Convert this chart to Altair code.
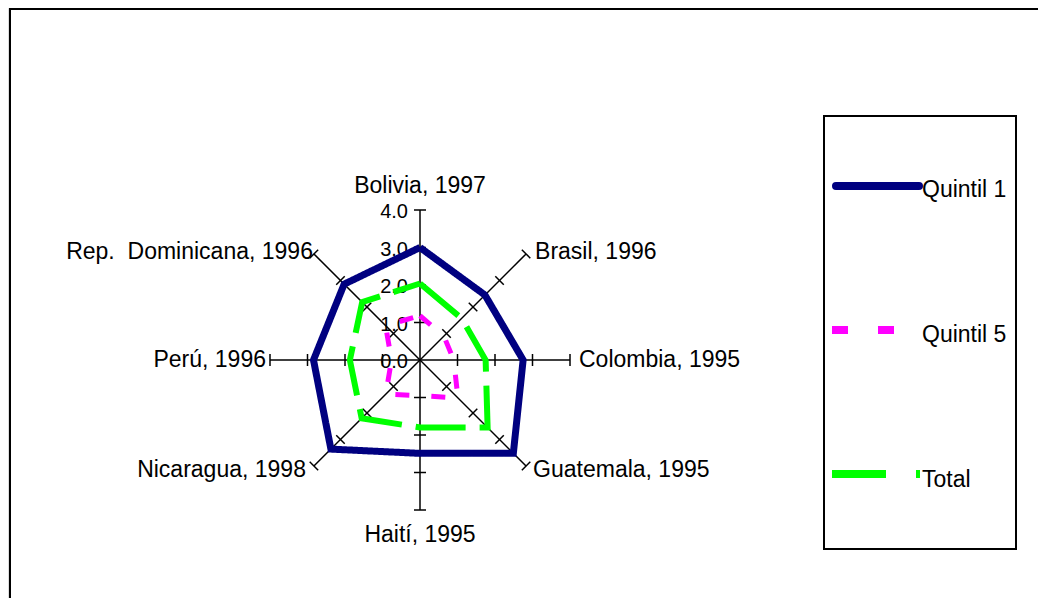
import math
import altair as alt
import pandas as pd

# ---------------- data ----------------
categories = ["Bolivia, 1997", "Brasil, 1996", "Colombia, 1995", "Guatemala, 1995",
              "Haití, 1995", "Nicaragua, 1998", "Perú, 1996", "Rep.\u00a0 Dominicana, 1996"]
quintil1 = [3.0, 2.45, 2.75, 3.52, 2.49, 3.36, 2.84, 2.86]
quintil5 = [1.18, 0.9, 0.9, 1.43, 0.95, 1.29, 0.76, 1.3]
total = [2.04, 1.57, 1.75, 2.55, 1.8, 2.2, 1.87, 2.18]
tick_values = [0, 1, 2, 3, 4]
tick_labels = ["0.0", "1.0", "2.0", "3.0", "4.0"]
series_names = ["Quintil 1", "Quintil 5", "Total"]

# ---------------- layout / style ----------------
W, H = 1030, 590
CX, CY = 412, 352          # centre of the radar in plot pixels
PPU = 37.5                 # pixels per unit
RMAX = 4
FONT = "Liberation Sans"
colors = {"Quintil 1": "#000080", "Quintil 5": "#FF00FF", "Total": "#00FF00"}
widths = {"Quintil 1": 7, "Quintil 5": 5, "Total": 6}
dashes = {"Quintil 1": [1, 0], "Quintil 5": [14, 22], "Total": [50, 14]}
legend_dashes = {"Quintil 1": [1, 0], "Quintil 5": [16, 30], "Total": [54, 30]}

xdom = [-CX / PPU, (W - CX) / PPU]
ydom = [-(H - CY) / PPU, CY / PPU]
xs = alt.Scale(domain=xdom, nice=False, zero=False)
ys = alt.Scale(domain=ydom, nice=False, zero=False)

n = len(categories)
angles = [2 * math.pi * i / n for i in range(n)]


def X(field):
    return alt.X(f"{field}:Q", scale=xs, axis=None)


def Y(field):
    return alt.Y(f"{field}:Q", scale=ys, axis=None)


# spokes
spokes = pd.DataFrame({
    "cat": categories,
    "x0": [0.0] * n, "y0": [0.0] * n,
    "x1": [RMAX * math.sin(a) for a in angles],
    "y1": [RMAX * math.cos(a) for a in angles],
})

# tick marks on every spoke
half = 6 / PPU
trows = []
for a in angles:
    for v in tick_values[1:]:
        px, py = v * math.sin(a), v * math.cos(a)
        ux, uy = math.cos(a), -math.sin(a)
        trows.append({"x0": px - half * ux, "y0": py - half * uy,
                      "x1": px + half * ux, "y1": py + half * uy})
ticks = pd.DataFrame(trows)

# radial axis labels
tlab = pd.DataFrame({"x": [0.0] * len(tick_values), "y": tick_values, "label": tick_labels})


# series polygons (closed)
def poly(name, vals):
    rows = []
    for i in range(n + 1):
        j = i % n
        rows.append({"series": name, "order": i,
                     "x": vals[j] * math.sin(angles[j]),
                     "y": vals[j] * math.cos(angles[j])})
    return pd.DataFrame(rows)


series_data = {"Quintil 1": quintil1, "Quintil 5": quintil5, "Total": total}

# category labels
label_offsets = {  # (dx px, dy px, align)
    0: (0, -24, "center"), 1: (9, -2, "left"), 2: (9, 0, "left"), 3: (7, 4, "left"),
    4: (0, 25, "center"), 5: (-8, 3.5, "right"), 6: (-4, 0, "right"), 7: (-1, -2, "right"),
}
lrows = []
for i, (c, a) in enumerate(zip(categories, angles)):
    dx, dy, al = label_offsets[i]
    lrows.append({"cat": c, "align": al,
                  "x": RMAX * math.sin(a) + dx / PPU,
                  "y": RMAX * math.cos(a) - dy / PPU})
labels = pd.DataFrame(lrows)

layers = []

# outer frame (left and top edges; the rest is off-page)
one = pd.DataFrame({"k": [0]})
layers.append(alt.Chart(one).mark_rule(color="black", strokeWidth=2).encode(
    x=alt.value(2), y=alt.value(0), y2=alt.value(H)))
layers.append(alt.Chart(one).mark_rule(color="black", strokeWidth=2).encode(
    x=alt.value(1), x2=alt.value(W), y=alt.value(1)))

# axis labels
layers.append(alt.Chart(tlab).mark_text(font=FONT, fontSize=20, align="right",
                                        baseline="middle", dx=-12, dy=2, color="black").encode(
    x=X("x"), y=Y("y"), text="label:N"))

# spokes and ticks
layers.append(alt.Chart(spokes).mark_rule(color="black", strokeWidth=1.5).encode(
    x=X("x0"), y=Y("y0"), x2="x1:Q", y2="y1:Q"))
layers.append(alt.Chart(ticks).mark_rule(color="black", strokeWidth=1.5).encode(
    x=X("x0"), y=Y("y0"), x2="x1:Q", y2="y1:Q"))

# series
for name in series_names:
    layers.append(alt.Chart(poly(name, series_data[name])).mark_line(
        color=colors[name], strokeWidth=widths[name], strokeDash=dashes[name],
        strokeJoin="miter", strokeCap="butt").encode(
        x=X("x"), y=Y("y"), order="order:Q"))

# category labels
for al in ["left", "center", "right"]:
    layers.append(alt.Chart(labels).transform_filter(alt.datum.align == al).mark_text(
        font=FONT, fontSize=23, align=al, baseline="middle", color="black").encode(
        x=X("x"), y=Y("y"), text="cat:N"))

# legend box
layers.append(alt.Chart(one).mark_rect(fill="white", stroke="black", strokeWidth=2).encode(
    x=alt.value(816), x2=alt.value(1008), y=alt.value(108), y2=alt.value(541)))

legend_pos = {  # symbol x-start, symbol x-end, symbol y, text y
    "Quintil 1": (828, 911, 178, 182),
    "Quintil 5": (824, 886, 322, 327),
    "Total": (824, 912, 466, 472),
}
for name in series_names:
    xs0, xe, sy, ty = legend_pos[name]
    ldf = pd.DataFrame({"series": [name]})
    layers.append(alt.Chart(ldf).mark_rule(
        color=colors[name], strokeWidth=8, strokeDash=legend_dashes[name],
        strokeCap="round" if name == "Quintil 1" else "butt").encode(
        x=alt.value(xs0), x2=alt.value(xe), y=alt.value(sy)))
    layers.append(alt.Chart(ldf).mark_text(font=FONT, fontSize=23, align="left",
                                           baseline="middle", color="black").encode(
        x=alt.value(914), y=alt.value(ty), text="series:N"))

chart = alt.layer(*layers).properties(
    width=W, height=H, padding=0, autosize=alt.AutoSizeParams(type="none")
).configure_view(stroke=None).configure(background="white")

chart.save("out.html", embed_options={"renderer": "svg", "actions": False})
